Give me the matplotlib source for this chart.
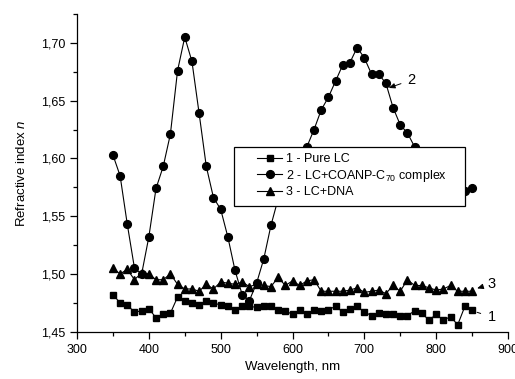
import numpy as np
import matplotlib
matplotlib.use('Agg')
import matplotlib.pyplot as plt
from matplotlib.ticker import MultipleLocator, FuncFormatter
from matplotlib.patches import Rectangle

plt.rcParams['font.family'] = ['Liberation Sans', 'DejaVu Sans']
plt.rcParams['mathtext.fontset'] = 'custom'
plt.rcParams['mathtext.rm'] = 'Liberation Sans'
plt.rcParams['mathtext.it'] = 'Liberation Sans:italic'

# длины волн, нм
wl = list(range(350, 860, 10))

# 1 - Pure LC
n_pure = [1.482, 1.475, 1.473, 1.467, 1.468, 1.470, 1.462, 1.465, 1.466, 1.480,
          1.477, 1.475, 1.473, 1.477, 1.475, 1.473, 1.472, 1.469, 1.472, 1.472,
          1.471, 1.472, 1.472, 1.469, 1.468, 1.465, 1.469, 1.465, 1.469, 1.468,
          1.469, 1.472, 1.467, 1.470, 1.472, 1.467, 1.464, 1.466, 1.465, 1.465,
          1.464, 1.464, 1.468, 1.466, 1.460, 1.465, 1.460, 1.463, 1.456, 1.472,
          1.469]

# 2 - LC+COANP-C70 complex
n_c70 = [1.603, 1.585, 1.543, 1.505, 1.500, 1.532, 1.574, 1.593, 1.621, 1.676,
         1.705, 1.684, 1.639, 1.593, 1.566, 1.556, 1.532, 1.503, 1.482, 1.477,
         1.492, 1.513, 1.542, 1.565, 1.578, 1.590, 1.600, 1.610, 1.625, 1.642,
         1.653, 1.667, 1.681, 1.683, 1.696, 1.687, 1.673, 1.673, 1.665, 1.644,
         1.629, 1.622, 1.610, 1.600, 1.590, 1.582, 1.576, 1.572, 1.570, 1.572,
         1.574]

# 3 - LC+DNA
n_dna = [1.505, 1.500, 1.504, 1.495, 1.501, 1.500, 1.495, 1.495, 1.500, 1.491,
         1.487, 1.487, 1.485, 1.491, 1.487, 1.493, 1.492, 1.491, 1.493, 1.489,
         1.491, 1.490, 1.489, 1.497, 1.490, 1.494, 1.490, 1.494, 1.495, 1.485,
         1.485, 1.485, 1.485, 1.486, 1.488, 1.484, 1.485, 1.486, 1.483, 1.490,
         1.485, 1.495, 1.490, 1.490, 1.488, 1.486, 1.487, 1.490, 1.485, 1.485,
         1.485]

labels = ['1 - Pure LC', '2 - LC+COANP-C$_{70}$ complex', '3 - LC+DNA']

fs = 9

fig = plt.figure(figsize=(5.15, 3.79), dpi=100)
ax = fig.add_axes([77/515, 1 - 331.7/379, 431/515, 317.7/379])

kw = dict(color='black', lw=0.8, markeredgecolor='black', markerfacecolor='black')
ax.plot(wl, n_pure, marker='s', ms=4.8, label=labels[0], **kw)
ax.plot(wl, n_c70, marker='o', ms=5.6, label=labels[1], **kw)
ax.plot(wl, n_dna, marker='^', ms=6.0, label=labels[2], **kw)

ax.set_xlim(300, 900)
ax.set_ylim(1.45, 1.725)
ax.xaxis.set_major_locator(MultipleLocator(100))
ax.xaxis.set_minor_locator(MultipleLocator(50))
ax.yaxis.set_major_locator(MultipleLocator(0.05))
ax.yaxis.set_minor_locator(MultipleLocator(0.025))
ax.yaxis.set_major_formatter(FuncFormatter(lambda v, p: f'{v:.2f}'.replace('.', ',')))

for s in ['top', 'right']:
    ax.spines[s].set_visible(False)
for s in ['left', 'bottom']:
    ax.spines[s].set_linewidth(0.9)
ax.tick_params(which='major', direction='out', length=5, width=0.9, labelsize=fs)
ax.tick_params(which='minor', direction='out', length=3, width=0.9)

ax.set_xlabel('Wavelength, nm', fontsize=fs + 0.5, labelpad=4)
ax.set_ylabel('Refractive index $n$', fontsize=fs + 0.5, labelpad=9)

# рамка легенды
ax.add_patch(Rectangle(((234 - 77) / 431, (331.7 - 206) / 317.7),
                       (465 - 234) / 431, (206 - 147) / 317.7,
                       transform=ax.transAxes, facecolor='white', edgecolor='black',
                       lw=0.9, zorder=4.5, clip_on=False))
leg = ax.legend(loc='upper left', bbox_to_anchor=((257 - 77) / 431, (331.7 - 153) / 317.7),
                frameon=False, fontsize=fs, borderpad=0, handlelength=2.0,
                handletextpad=0.3, labelspacing=0.2, borderaxespad=0)
leg.set_zorder(5)

# подписи кривых
arr = dict(arrowstyle='-|>,head_length=0.35,head_width=0.15', color='black', lw=0.7,
           shrinkA=3, shrinkB=0)
ax.annotate('2', xy=(734, 1.661), xytext=(766, 1.668), fontsize=10.5, ha='center', va='center',
            arrowprops=arr)
ax.annotate('3', xy=(857, 1.4875), xytext=(877, 1.4915), fontsize=10.5, ha='center', va='center',
            annotation_clip=False, arrowprops=arr)
ax.annotate('1', xy=(857, 1.4668), xytext=(877, 1.4627), fontsize=10.5, ha='center', va='center',
            annotation_clip=False,
            arrowprops=dict(arrowstyle='-', color='black', lw=0.7, shrinkA=3, shrinkB=0))

plt.savefig('out.png', dpi=100)
plt.close()
